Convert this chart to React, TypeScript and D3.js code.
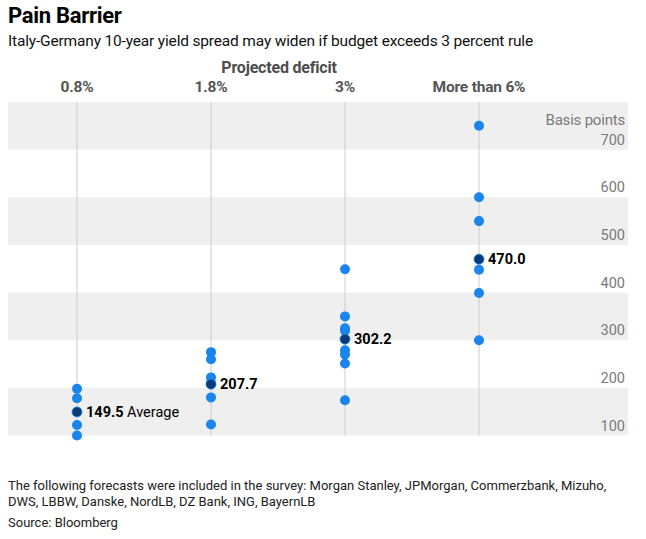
import React from "react";
import * as d3 from "d3";

const categories = ["0.8%", "1.8%", "3%", "More than 6%"];
const forecasts: number[][] = [
  [198, 178, 122, 100],
  [275, 260, 222, 210, 180, 123],
  [449, 350, 325, 320, 279, 270, 251, 174],
  [750, 600, 550, 448, 399, 300],
];
const averages = [149.5, 207.7, 302.2, 470.0];
const yTicks = [100, 200, 300, 400, 500, 600, 700];
const bandStarts = [100, 300, 500, 700];

const W = 646;
const H = 539;
const FONT = "Roboto, 'Liberation Sans', Arial, sans-serif";

export default function App() {
  const x = d3
    .scalePoint<string>()
    .domain(categories)
    .range([77, 479]);
  const y = d3.scaleLinear().domain([100, 800]).range([435.5, 102]);
  const left = 8;
  const right = 628;

  return (
    <svg
      width={W}
      height={H}
      style={{ position: "absolute", left: 0, top: 0, fontFamily: FONT }}
    >
      <rect width={W} height={H} fill="#fff" />
      <text x={8} y={23} fontSize={22} fontWeight={700} fill="#000" letterSpacing={-0.3}>
        Pain Barrier
      </text>
      <text x={8} y={46} fontSize={15.5} fill="#111" letterSpacing={-0.17}>
        Italy-Germany 10-year yield spread may widen if budget exceeds 3 percent rule
      </text>
      <text x={279} y={73} fontSize={16} fontWeight={700} fill="#4d4d4d" textAnchor="middle" letterSpacing={-0.2}>
        Projected deficit
      </text>
      {categories.map((c) => (
        <text
          key={c}
          x={x(c)}
          y={92}
          fontSize={15.5}
          fontWeight={700}
          fill="#555"
          textAnchor="middle"
          letterSpacing={-0.2}
        >
          {c}
        </text>
      ))}
      {bandStarts.map((b) => (
        <rect
          key={b}
          x={left}
          width={right - left}
          y={y(b + 100)}
          height={y(b) - y(b + 100)}
          fill="#efefef"
        />
      ))}
      {categories.map((c) => (
        <line
          key={c}
          x1={x(c)}
          x2={x(c)}
          y1={y(800)}
          y2={y(100)}
          stroke="#cccccc"
          strokeWidth={1}
        />
      ))}
      <text x={625} y={125} fontSize={15} fill="#7a7a7a" textAnchor="end" letterSpacing={-0.2}>
        Basis points
      </text>
      {yTicks.map((t) => (
        <text key={t} x={625} y={y(t) - 5} fontSize={14.5} fill="#7a7a7a" textAnchor="end">
          {t}
        </text>
      ))}
      {forecasts.map((vals, i) =>
        vals.map((v, j) => (
          <circle
            key={i + "-" + j}
            cx={x(categories[i])}
            cy={y(v)}
            r={5}
            fill="#1a85ec"
          />
        ))
      )}
      {averages.map((a, i) => (
        <g key={i}>
          <circle cx={x(categories[i])} cy={y(a)} r={5} fill="#0b3a78" stroke="#1a85ec" strokeWidth={0.8} />
          <text
            x={(x(categories[i]) as number) + 9}
            y={y(a) + 5}
            fontSize={14.5}
            fontWeight={700}
            fill="#000"
          >
            {a.toFixed(1)}
            {i === 0 ? (
              <tspan fontWeight={400}> Average</tspan>
            ) : null}
          </text>
        </g>
      ))}
      <text x={8} y={490} fontSize={13} fill="#222" letterSpacing={0}>
        The following forecasts were included in the survey: Morgan Stanley, JPMorgan, Commerzbank, Mizuho,
      </text>
      <text x={8} y={506} fontSize={13} fill="#222" letterSpacing={0}>
        DWS, LBBW, Danske, NordLB, DZ Bank, ING, BayernLB
      </text>
      <text x={8} y={527} fontSize={13} fill="#222" letterSpacing={0}>
        Source: Bloomberg
      </text>
    </svg>
  );
}
